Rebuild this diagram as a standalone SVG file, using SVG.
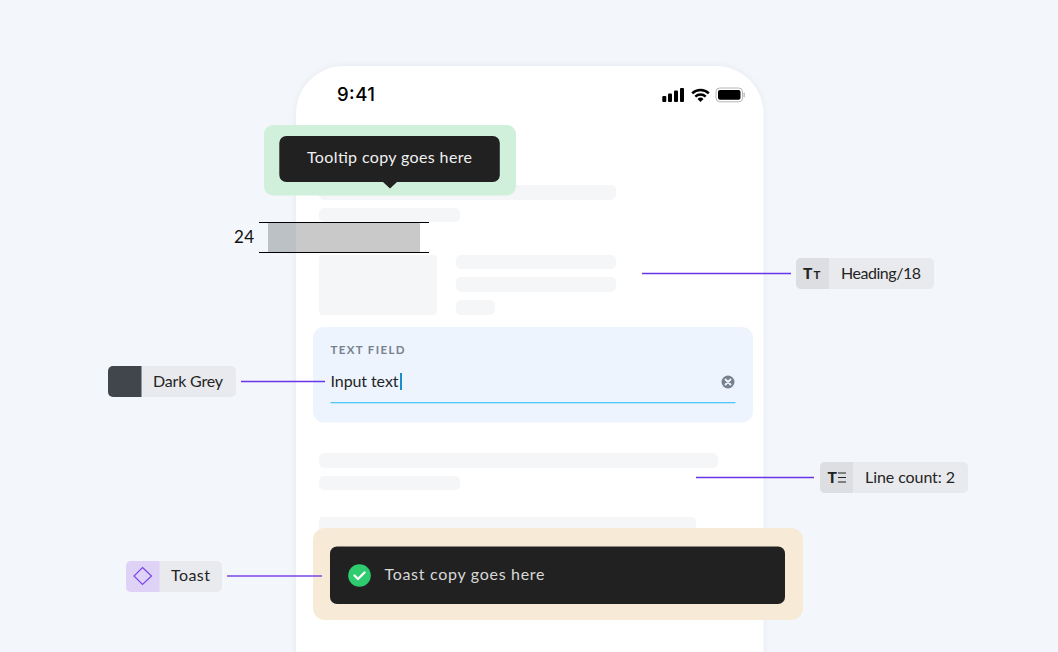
<svg xmlns="http://www.w3.org/2000/svg" width="1058" height="652" viewBox="0 0 1058 652">
<defs>
<style>
text{font-family:"Lato","Open Sans",sans-serif;font-size:16px;fill:#242424}
.sk{fill:#f5f6f8}
.chip{fill:#e9eaee}
.icn{fill:#dcdee2}
.con{stroke:#6a35e8;stroke-width:1.300;fill:none}
.ruler{stroke:#000;stroke-width:1;fill:none}
</style>
<filter id="sh" x="-10%" y="-10%" width="120%" height="120%"><feDropShadow dx="0" dy="0" stdDeviation="3" flood-color="#1c2a4a" flood-opacity="0.06"/></filter>
</defs>
<rect width="1058" height="652" fill="#f3f6fb"/>
<g id="phone">
<path d="M296 660V114a48 48 0 0 1 48-48H715.500a48 48 0 0 1 48 48V660Z" fill="#fff" filter="url(#sh)"/>
<text x="337" y="101" style="font-family:Inter,sans-serif;font-size:18.500px;font-weight:500;fill:#000" textLength="38">9:41</text>
<g id="status">
<rect x="662.300" y="96" width="4" height="6" rx="1"/><rect x="668" y="93.500" width="4" height="8.500" rx="1"/><rect x="674" y="90.500" width="4" height="11.500" rx="1"/><rect x="680" y="88" width="4" height="14" rx="1"/>
<path d="M692.200 93.300a12 12 0 0 1 16.600 0M695.300 96.700a7.500 7.500 0 0 1 10.400 0" fill="none" stroke="#000" stroke-width="2.500"/>
<path d="M697.500 99a4.300 4.300 0 0 1 6 0L700.500 102Z"/>
<rect x="716" y="88" width="26.500" height="13.800" rx="3.800" fill="none" stroke="#b5b5b5" stroke-width="1"/>
<rect x="718" y="90" width="22.500" height="9.800" rx="2" fill="#000"/>
<rect x="743.500" y="92.500" width="1.300" height="4.800" rx=".6" fill="#b5b5b5"/>
</g>
</g>
<g id="skeletons">
<rect class="sk" x="319" y="185" width="297" height="15" rx="5"/>
<rect class="sk" x="319" y="208" width="141" height="14" rx="5"/>
<rect class="sk" x="319" y="255" width="118" height="60" rx="4"/>
<rect class="sk" x="456" y="255" width="160" height="14" rx="5"/>
<rect class="sk" x="456" y="277" width="160" height="15" rx="5"/>
<rect class="sk" x="456" y="300" width="39" height="15" rx="5"/>
<rect class="sk" x="319" y="453" width="399" height="15" rx="5"/>
<rect class="sk" x="319" y="476" width="141" height="14" rx="5"/>
<rect class="sk" x="319" y="517" width="377" height="20" rx="4"/>
</g>
<g id="tooltip">
<rect x="264" y="125" width="252" height="70.500" rx="9" fill="#d0f0dc"/>
<rect x="279.300" y="136" width="220.500" height="46" rx="7" fill="#212121"/>
<path d="M383 182H397L390 188.500Z" fill="#212121"/>
<text x="307" y="163" textLength="165" style="fill:#f0f0f0">Tooltip copy goes here</text>
</g>
<g id="spacing">
<rect x="268" y="223" width="152" height="29" fill="#c9c9c9"/>
<rect x="268" y="223" width="28" height="29" fill="#bcc1c6"/>
<path class="ruler" d="M259 222.500H429M259 252.500H429"/>
<text x="234" y="243" textLength="20" style="font-size:17px;fill:#111">24</text>
</g>
<g id="textfield">
<rect x="313" y="327" width="440" height="95.500" rx="11" fill="#edf4fd"/>
<text x="330.500" y="354" textLength="75" style="font-size:11.500px;font-weight:700;fill:#77818f;letter-spacing:1px">TEXT FIELD</text>
<text x="330.500" y="387" textLength="68">Input text</text>
<rect x="400" y="373" width="2" height="17" fill="#1a8fc9"/>
<rect x="330.500" y="402" width="405" height="1.300" fill="#4fc8f8"/>
<circle cx="728" cy="382" r="6.500" fill="#77818f"/>
<path d="M725.500 379.500L730.500 384.500M730.500 379.500L725.500 384.500" stroke="#edf4fd" stroke-width="1.800" stroke-linecap="round"/>
</g>
<g id="toast">
<rect x="313" y="528" width="490" height="92" rx="12" fill="#f7ead7"/>
<rect x="330" y="546.500" width="455" height="57.500" rx="7" fill="#212121"/>
<circle cx="359.500" cy="575.500" r="11.300" fill="#2ecb6f"/>
<path d="M354.500 575.500L358 579L364.500 572.500" fill="none" stroke="#fff" stroke-width="2.300" stroke-linecap="round" stroke-linejoin="round"/>
<text x="384.500" y="579.500" textLength="160" style="fill:#d8d8d8">Toast copy goes here</text>
</g>
<g id="connectors">
<path class="con" d="M642 273.500H791"/>
<path class="con" d="M696 477.500H814"/>
<path class="con" d="M241 381.500H325"/>
<path class="con" d="M227 576H322" style="stroke:#7a45e6;stroke-width:1.600"/>
</g>
<g id="chip-heading">
<rect class="chip" x="796" y="258" width="138" height="31" rx="5"/>
<path class="icn" d="M801 258H829V289H801a5 5 0 0 1-5-5V263a5 5 0 0 1 5-5Z"/>
<text x="803" y="279" style="font-size:15.500px;font-weight:900;fill:#222">T</text>
<text x="813.500" y="279" style="font-size:11.500px;font-weight:700;fill:#222">T</text>
<text x="841" y="279" textLength="80">Heading/18</text>
</g>
<g id="chip-linecount">
<rect class="chip" x="820" y="462" width="148" height="31" rx="5"/>
<path class="icn" d="M825 462H853V493H825a5 5 0 0 1-5-5V467a5 5 0 0 1 5-5Z"/>
<text x="827.500" y="483" style="font-size:15.500px;font-weight:900;fill:#222">T</text>
<path d="M838 473H846M838 477.500H846M838 482H846" stroke="#222" stroke-width="1.100" fill="none"/>
<text x="865" y="483" textLength="90">Line count: 2</text>
</g>
<g id="chip-darkgrey">
<rect class="chip" x="108" y="366" width="128" height="31" rx="5"/>
<path d="M113 366H141.500V397H113a5 5 0 0 1-5-5V371a5 5 0 0 1 5-5Z" fill="#41454c"/>
<text x="153" y="387" textLength="70">Dark Grey</text>
</g>
<g id="chip-toast">
<rect class="chip" x="126" y="561" width="96" height="31" rx="5"/>
<path d="M131 561H159.500V592H131a5 5 0 0 1-5-5V566a5 5 0 0 1 5-5Z" fill="#ded2f7"/>
<path d="M142.500 567.500L151.500 576L142.500 584.500L134 576Z" fill="none" stroke="#7a45e6" stroke-width="1.200"/>
<text x="171" y="581" textLength="39">Toast</text>
</g>
</svg>
